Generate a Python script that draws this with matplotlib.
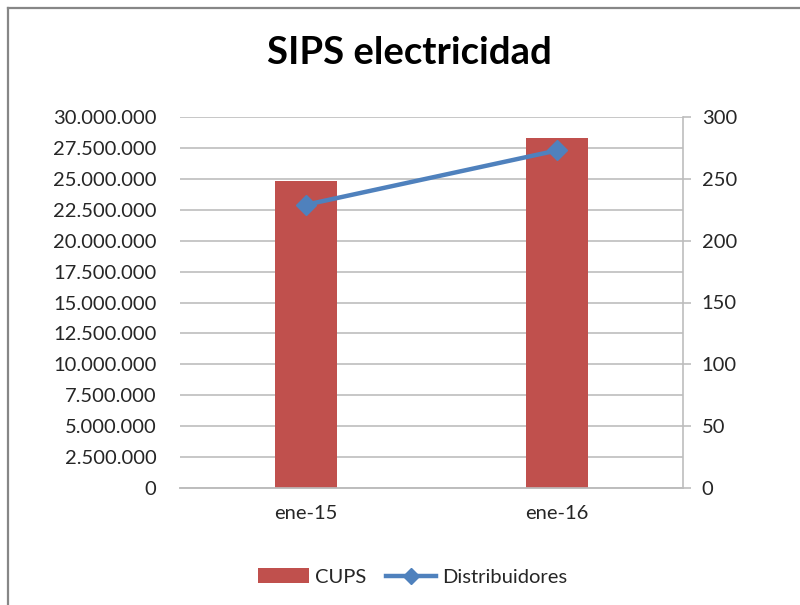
import matplotlib
matplotlib.use("Agg")
import matplotlib.pyplot as plt
from matplotlib.lines import Line2D
from matplotlib.patches import Patch
from matplotlib.ticker import FuncFormatter

# Data
categories = ["ene-15", "ene-16"]
cups = [24860000, 28340000]
distribuidores = [229, 273]

left_ticks = list(range(0, 30000001, 2500000))
right_ticks = list(range(0, 301, 50))

bar_color = "#C0504D"
line_color = "#4F81BD"
grid_color = "#BDBDBD"
text_color = "#262626"

plt.rcParams['font.family'] = ['Lato', 'DejaVu Sans']

fig = plt.figure(figsize=(8, 6.05), dpi=100)
ax = fig.add_axes([180 / 800, 1 - 488 / 605, 503 / 800, 371 / 605])
ax2 = ax.twinx()

x = list(range(len(categories)))
ax.bar(x, cups, width=0.247, color=bar_color, zorder=3, label="CUPS")
ax2.plot(x, distribuidores, color=line_color, linewidth=3.2, marker="D",
         markersize=10, zorder=4, label="Distribuidores")

ax.set_xlim(-0.5, 1.5)
ax.set_ylim(0, 30000000)
ax2.set_ylim(0, 300)
ax.set_yticks(left_ticks)
ax2.set_yticks(right_ticks)
ax.yaxis.set_major_formatter(FuncFormatter(lambda v, p: f"{int(v):,}".replace(",", ".")))
ax.set_xticks(x)
ax.set_xticklabels(categories)

ax.grid(axis="y", color=grid_color, linewidth=1.2, zorder=0)
ax.set_axisbelow(True)

for a in (ax, ax2):
    for s in ("top", "left", "right"):
        a.spines[s].set_visible(False)
    a.spines["bottom"].set_color(grid_color)
    a.spines["bottom"].set_linewidth(1.2)
ax2.spines["right"].set_visible(True)
ax2.spines["right"].set_color(grid_color)
ax2.spines["right"].set_linewidth(1.2)

fs = 14.5
ax.tick_params(axis="y", length=0, pad=17, labelsize=fs, labelcolor=text_color)
ax.tick_params(axis="x", length=0, pad=12, labelsize=fs, labelcolor=text_color)
ax2.tick_params(axis="y", length=5.5, width=1.2, color=grid_color, direction="out",
                pad=8, labelsize=fs, labelcolor=text_color)

fig.text(409 / 800, 1 - 53 / 605, "SIPS electricidad", ha="center", va="center",
         fontsize=27.5, fontweight="bold", color="black")

handles = [Patch(facecolor=bar_color, edgecolor="none"),
           Line2D([0], [0], color=line_color, linewidth=3.2, marker="D", markersize=8)]
fig.legend(handles, ["CUPS", "Distribuidores"], loc="center", ncol=2,
           bbox_to_anchor=(413 / 800, 1 - 577 / 605), frameon=False,
           fontsize=fs, handlelength=2.5, columnspacing=1.0, handletextpad=0.3,
           labelcolor=text_color)

# chart border (only top and left edges visible in the reference)
fig.add_artist(Line2D([8 / 800, 8 / 800], [0, 1 - 8 / 605], transform=fig.transFigure,
                      color="#878787", linewidth=1.6))
fig.add_artist(Line2D([8 / 800, 1], [1 - 8 / 605, 1 - 8 / 605], transform=fig.transFigure,
                      color="#878787", linewidth=1.6))

fig.savefig("out.png", dpi=100)
